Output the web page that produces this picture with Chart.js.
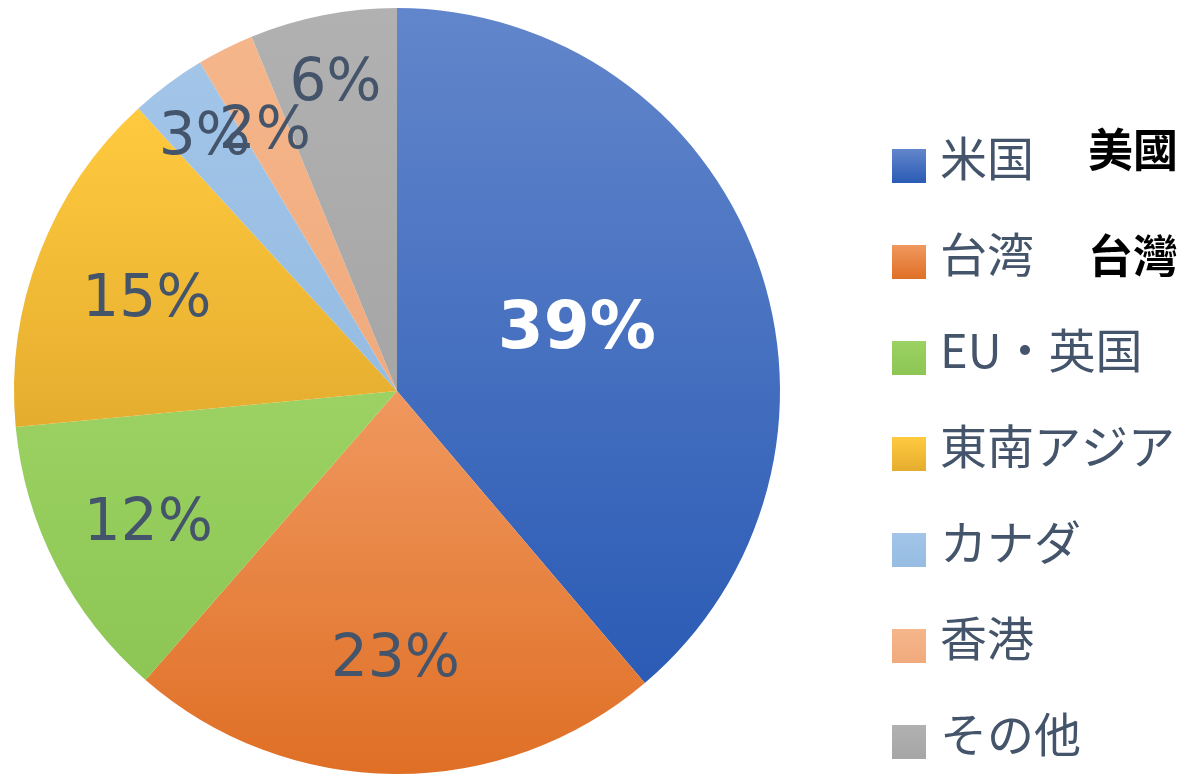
<!DOCTYPE html>
<html>
<head>
<meta charset="utf-8">
<script src="https://cdn.jsdelivr.net/npm/chart.js@4.4.0/dist/chart.umd.min.js"></script>
<style>
  html, body { margin: 0; padding: 0; background: #fff; overflow: hidden; }
  #wrap { width: 1191px; height: 774px; position: relative; }
</style>
</head>
<body>
<div id="wrap"><canvas id="pie"></canvas></div>
<script>
// data (shares; labels show them rounded)
const labels = ['米国', '台湾', 'EU・英国', '東南アジア', 'カナダ', '香港', 'その他'];
const shares = [38.8, 22.6, 12.1, 14.7, 3.2, 2.4, 6.2];
const notes = ['美國', '台灣']; // hand-written notes beside the first two legend rows
const noteY = [150, 256];

// light / dark end of each slice gradient
const topColors = ['#6286cb', '#f0985f', '#9bd263', '#ffca3f', '#a2c5e8', '#f5b68b', '#b1b1b1'];
const bottomColors = ['#2b5bb5', '#df6f25', '#8dc654', '#e5ad2e', '#96bce2', '#f0aa7c', '#a6a6a6'];

// how far out each % label sits (fraction of radius), like Excel's best fit
const labelDist = [0.50, 0.69, 0.73, 0.70, 0.84, 0.77, 0.83];

const textColor = '#44546a';

function sliceGradient(context) {
    const chart = context.chart;
    const i = context.dataIndex;
    const area = chart.chartArea;
    if (!area) return topColors[i];
    const cx = (area.left + area.right) / 2;
    const cy = (area.top + area.bottom) / 2;
    const r = Math.min(area.right - area.left, area.bottom - area.top) / 2;
    const total = shares.reduce((a, b) => a + b, 0);
    let a0 = -Math.PI / 2;
    for (let k = 0; k < i; k++) a0 += 2 * Math.PI * shares[k] / total;
    const a1 = a0 + 2 * Math.PI * shares[i] / total;
    const ys = [cy, cy + r * Math.sin(a0), cy + r * Math.sin(a1)];
    [-Math.PI / 2, Math.PI / 2, 3 * Math.PI / 2].forEach(a => {
        if (a >= a0 && a <= a1) ys.push(cy + r * Math.sin(a));
    });
    const y0 = Math.min(...ys), y1 = Math.max(...ys);
    const g = chart.ctx.createLinearGradient(0, y0, 0, y1);
    g.addColorStop(0, topColors[i]);
    g.addColorStop(1, bottomColors[i]);
    return g;
}

// % labels inside the slices
const sliceLabels = {
    id: 'sliceLabels',
    afterDatasetsDraw(chart) {
        const ctx = chart.ctx;
        const arcs = chart.getDatasetMeta(0).data;
        ctx.save();
        ctx.textAlign = 'center';
        ctx.textBaseline = 'middle';
        arcs.forEach((arc, i) => {
            const p = arc.getProps(['x', 'y', 'startAngle', 'endAngle', 'outerRadius'], true);
            const mid = (p.startAngle + p.endAngle) / 2;
            const d = p.outerRadius * labelDist[i];
            const x = p.x + Math.cos(mid) * d;
            const y = p.y + Math.sin(mid) * d + 6;
            if (i === 0) {
                ctx.font = 'bold 66px "DejaVu Sans"';
                ctx.fillStyle = '#ffffff';
            } else {
                ctx.font = '58px "DejaVu Sans"';
                ctx.fillStyle = textColor;
            }
            ctx.fillText(Math.round(shares[i]) + '%', x, y);
        });
        ctx.restore();
    }
};

// legend on the right, drawn by hand
const sideLegend = {
    id: 'sideLegend',
    afterDraw(chart) {
        const ctx = chart.ctx;
        const boxX = 892, box = 34, textX = 940;
        const firstY = 166, step = 96;
        ctx.save();
        labels.forEach((lab, i) => {
            const cy = firstY + step * i;
            const g = ctx.createLinearGradient(0, cy - box / 2, 0, cy + box / 2);
            g.addColorStop(0, topColors[i]);
            g.addColorStop(1, bottomColors[i]);
            ctx.fillStyle = g;
            ctx.fillRect(boxX, cy - box / 2, box, box);
            ctx.fillStyle = textColor;
            ctx.font = '47px "Noto Sans CJK JP"';
            ctx.textAlign = 'left';
            ctx.textBaseline = 'middle';
            ctx.fillText(lab, textX, cy - 8);
            if (notes[i]) {
                ctx.fillStyle = '#000000';
                ctx.font = 'bold 45px "Noto Sans CJK TC"';
                ctx.fillText(notes[i], 1088, noteY[i]);
            }
        });
        ctx.restore();
    }
};

const data = {
    labels: labels,
    datasets: [{
        data: shares,
        backgroundColor: sliceGradient,
        borderWidth: 0
    }]
};

const options = {
    responsive: false,
    animation: false,
    rotation: 0,
    layout: {
        padding: { left: 14, right: 411, top: 8, bottom: 0 }
    },
    plugins: {
        legend: { display: false },
        tooltip: { enabled: false }
    }
};

const canvas = document.getElementById('pie');
canvas.width = 1191;
canvas.height = 774;

new Chart(canvas, {
    type: 'pie',
    data: data,
    options: options,
    plugins: [sliceLabels, sideLegend]
});
</script>
</body>
</html>
